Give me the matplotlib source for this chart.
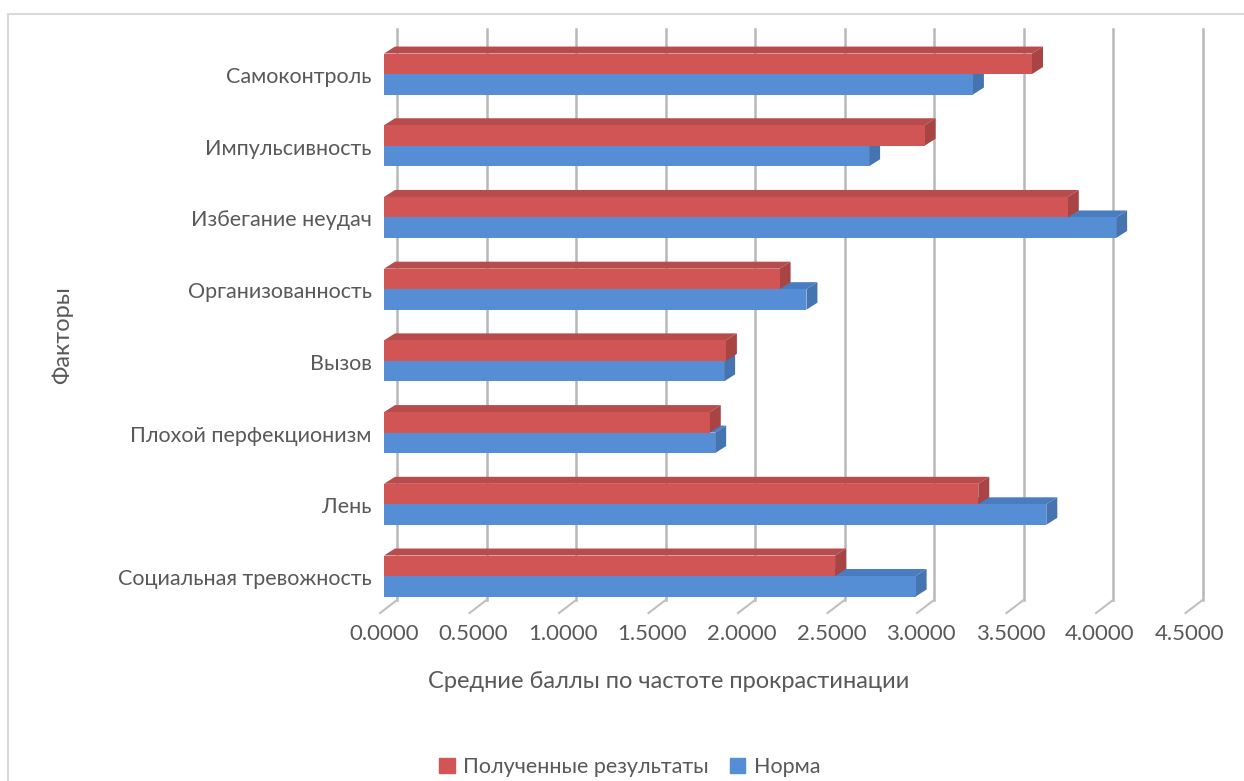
import matplotlib.pyplot as plt
from matplotlib.patches import Polygon, Rectangle, Patch
import numpy as np

plt.rcParams['font.family'] = ['Lato', 'DejaVu Sans']

factors = ['Самоконтроль', 'Импульсивность', 'Избегание неудач', 'Организованность',
           'Вызов', 'Плохой перфекционизм', 'Лень', 'Социальная тревожность']
results = [3.62, 3.02, 3.82, 2.21, 1.91, 1.82, 3.32, 2.52]   # Полученные результаты
norm = [3.29, 2.71, 4.09, 2.36, 1.90, 1.85, 3.70, 2.97]      # Норма
ticks = np.arange(0, 4.51, 0.5)

TXT = '#595959'
RED = ('#D25555', '#B84C4C', '#A84444')    # front, top, side
BLUE = ('#558ED5', '#4A7DC0', '#4574B0')

W, H = 1244, 781
fig = plt.figure(figsize=(W / 100, H / 100), dpi=100)
ax = fig.add_axes([384 / W, 1 - 610 / H, 805.5 / W, 581 / H])
ax.set_xlim(0, 4.5)
ax.set_ylim(7.46, -0.642)

# pixel -> data conversions for the fake depth
px_x = 805.5 / 4.5
px_y = 581 / (7.46 + 0.642)
def ux(p):
    return p / px_x
def uy(p):
    return p / px_y

# back wall gridlines with a slanted foot towards the front
gx, gy = ux(13), uy(10)
floor_back = uy(600 - 75)
floor_front = uy(613 - 75)
for v in ticks:
    ax.plot([v + gx, v + gx], [-0.642, floor_back], color='#B8B8B8', lw=1.8, clip_on=False, zorder=1)
    ax.plot([v + gx, v - ux(4)], [floor_back, floor_front], color='#C0C0C0', lw=1.5, clip_on=False, zorder=1)

def bar3d(v, y0, y1, cols):
    bx, by = ux(11), uy(7)
    front, top, side = cols
    ax.add_patch(Polygon([(0, y0), (v, y0), (v + bx, y0 - by), (bx, y0 - by)],
                         closed=True, fc=top, ec='none', zorder=3))
    ax.add_patch(Polygon([(v, y0), (v + bx, y0 - by), (v + bx, y1 - by), (v, y1)],
                         closed=True, fc=side, ec='none', zorder=3))
    ax.add_patch(Rectangle((0, y0), v, y1 - y0, fc=front, ec='none', zorder=3))

h = uy(20.5)
off = uy(1)
for i in range(len(factors)):
    bar3d(norm[i], i - off, i + h - off, BLUE)
    bar3d(results[i], i - h - off, i - off, RED)

ax.set_xticks(ticks)
ax.set_xticklabels(['%.4f' % t for t in ticks])
ax.set_yticks(range(len(factors)))
ax.set_yticklabels(factors)
ax.tick_params(axis='x', length=0, pad=10, labelsize=16, labelcolor=TXT)
ax.tick_params(axis='y', length=0, pad=9, labelsize=15.5, labelcolor=TXT)
for s in ax.spines.values():
    s.set_visible(False)

fig.text(669 / W, 1 - 682 / H, 'Средние баллы по частоте прокрастинации',
         ha='center', va='center', fontsize=17, color=TXT)
fig.text(62 / W, 1 - 335 / H, 'Факторы', ha='center', va='center',
         rotation=90, fontsize=17, color=TXT)

fig.legend(handles=[Patch(color=RED[0]), Patch(color=BLUE[0])],
           labels=['Полученные результаты', 'Норма'],
           loc='center', bbox_to_anchor=(630 / W, 1 - 767 / H), ncol=2,
           frameon=False, fontsize=15.5, labelcolor=TXT,
           handlelength=0.7, handleheight=0.7, handletextpad=0.4, columnspacing=1.0)

# chart area border
fig.add_artist(Rectangle((8 / W, -0.05), 1.1, 1 - 14 / H + 0.05, transform=fig.transFigure,
                         fill=False, ec='#D9D9D9', lw=1.5))

fig.savefig('out.png', dpi=100)
